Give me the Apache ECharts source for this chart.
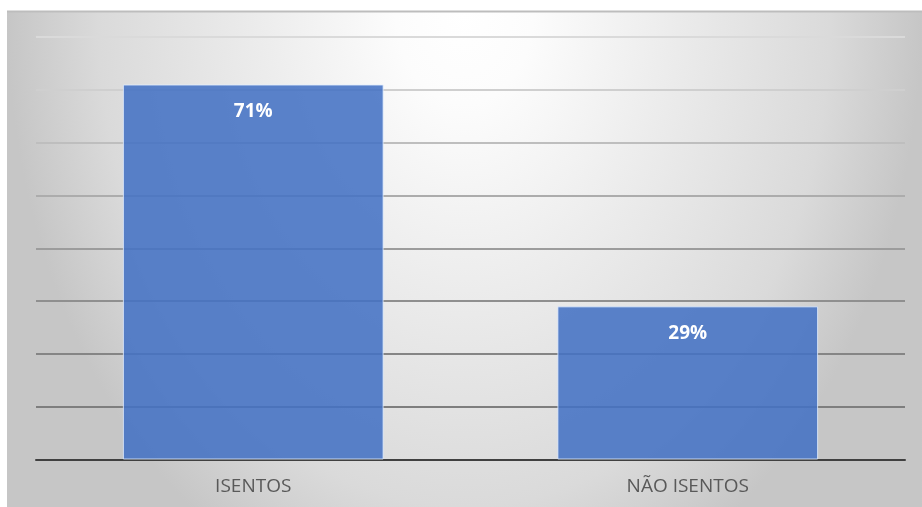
<!DOCTYPE html>
<html>
<head>
<meta charset="utf-8">
<script src="https://cdn.jsdelivr.net/npm/echarts@6/dist/echarts.min.js"></script>
<style>
html,body{margin:0;padding:0;background:#fff;}
#chart{width:922px;height:507px;}
</style>
</head>
<body>
<div id="chart"></div>
<script>
const categories = ['ISENTOS', 'NÃO ISENTOS'];
const values = [71, 29];
const gridColors = ['#7a7a7a','#7e7e7e','#858585','#8f8f8f','#9c9c9c','#acacac','#bebebe','#cfcfcf','#dadada'];

const chart = echarts.init(document.getElementById('chart'), null, {renderer:'canvas'});
chart.setOption({
  animation: false,
  backgroundColor: '#ffffff',
  graphic: [
    {
      type: 'rect', z: -10, silent: true,
      x: 7, y: 11, scaleX: 9.15, scaleY: 12.4,
      shape: {x: 0, y: 0, width: 100, height: 40},
      style: {
        fill: new echarts.graphic.RadialGradient(0.5, 0, 1.25, [
          {offset: 0, color: '#ffffff'},
          {offset: 0.15, color: '#fcfcfc'},
          {offset: 0.45, color: '#ececec'},
          {offset: 0.8, color: '#dadada'},
          {offset: 1, color: '#c6c6c6'}
        ])
      }
    },
    {
      type: 'line', z: -9, silent: true,
      shape: {x1: 7, y1: 11.5, x2: 922, y2: 11.5},
      style: {stroke: '#bdbdbd', lineWidth: 2}
    }
  ],
  grid: {left: 36, right: 17, top: 37, bottom: 47.5, containLabel: false},
  xAxis: {
    type: 'category',
    data: categories,
    axisLine: {show: true, lineStyle: {color: '#404040', width: 2}},
    axisTick: {show: false},
    axisLabel: {color: '#595959', fontSize: 19, fontFamily: 'Open Sans', margin: 18}
  },
  yAxis: {
    type: 'value',
    min: 0, max: 80, interval: 10,
    axisLine: {show: false},
    axisTick: {show: false},
    axisLabel: {show: false},
    splitLine: {show: true, lineStyle: {color: gridColors, width: 2}}
  },
  series: [{
    type: 'bar',
    data: values,
    barCategoryGap: '40%',
    itemStyle: {color: 'rgba(68,114,196,0.88)', borderColor: 'rgba(225,238,255,0.8)', borderWidth: 1},
    label: {
      show: true, position: 'insideTop', distance: 18,
      formatter: '{c}%', color: '#ffffff', fontWeight: 'bold',
      fontSize: 19, fontFamily: 'Open Sans'
    }
  }]
});
</script>
</body>
</html>
